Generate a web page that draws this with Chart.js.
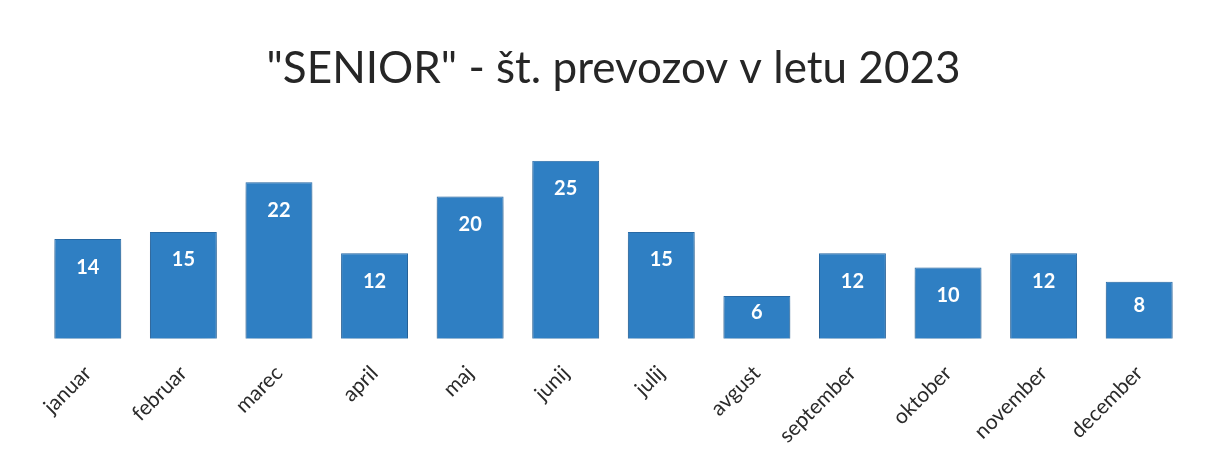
<!DOCTYPE html>
<html>
<head>
<meta charset="utf-8">
<script src="https://cdn.jsdelivr.net/npm/chart.js@4"></script>
<style>
  html, body { margin: 0; padding: 0; background: #fff; }
  #wrap { width: 1206px; height: 462px; }
</style>
</head>
<body>
<div id="wrap"><canvas id="graf"></canvas></div>
<script>
// podatki
const meseci = ['januar', 'februar', 'marec', 'april', 'maj', 'junij', 'julij', 'avgust', 'september', 'oktober', 'november', 'december'];
const prevozi = [14, 15, 22, 12, 20, 25, 15, 6, 12, 10, 12, 8];
const naslov = '"SENIOR" - št. prevozov v letu 2023';

// senca pod stolpci
const sencaPlugin = {
  id: 'senca',
  beforeDatasetsDraw(chart) {
    const ctx = chart.ctx;
    ctx.save();
    ctx.shadowColor = 'rgba(0,0,0,0.3)';
    ctx.shadowBlur = 16;
    ctx.shadowOffsetY = 6;
  },
  afterDatasetsDraw(chart) {
    chart.ctx.restore();
  }
};

// oznake vrednosti v stolpcih
const oznakePlugin = {
  id: 'oznake',
  afterDatasetsDraw(chart) {
    const ctx = chart.ctx;
    const meta = chart.getDatasetMeta(0);
    ctx.save();
    ctx.fillStyle = '#ffffff';
    ctx.font = 'bold 20px Lato';
    ctx.textAlign = 'center';
    ctx.textBaseline = 'middle';
    meta.data.forEach((bar, i) => {
      const h = bar.base - bar.y;
      const off = Math.min(28, h / 2 - 5);
      ctx.fillText(prevozi[i], bar.x, bar.y + off);
    });
    ctx.restore();
  }
};

const ctx = document.getElementById('graf').getContext('2d');
new Chart(ctx, {
  type: 'bar',
  data: {
    labels: meseci,
    datasets: [{
      data: prevozi,
      backgroundColor: '#2f7fc3',
      borderColor: '#2a6fae',
      borderWidth: 1,
      categoryPercentage: 0.7,
      barPercentage: 1.0
    }]
  },
  options: {
    responsive: true,
    maintainAspectRatio: false,
    animation: false,
    layout: { padding: { left: 40, right: 19, top: 20, bottom: 0 } },
    plugins: {
      legend: { display: false },
      tooltip: { enabled: false },
      title: {
        display: true,
        text: naslov,
        color: '#262626',
        font: { family: 'Lato', size: 44, weight: 'normal' },
        padding: { top: 22, bottom: 66 }
      }
    },
    scales: {
      x: {
        grid: { display: false },
        border: { display: false },
        ticks: {
          color: '#2a2a2a',
          font: { family: 'Lato', size: 21 },
          minRotation: 45,
          maxRotation: 45,
          padding: 14
        }
      },
      y: {
        display: false,
        min: 0,
        max: 25
      }
    }
  },
  plugins: [sencaPlugin, oznakePlugin]
});
</script>
</body>
</html>
